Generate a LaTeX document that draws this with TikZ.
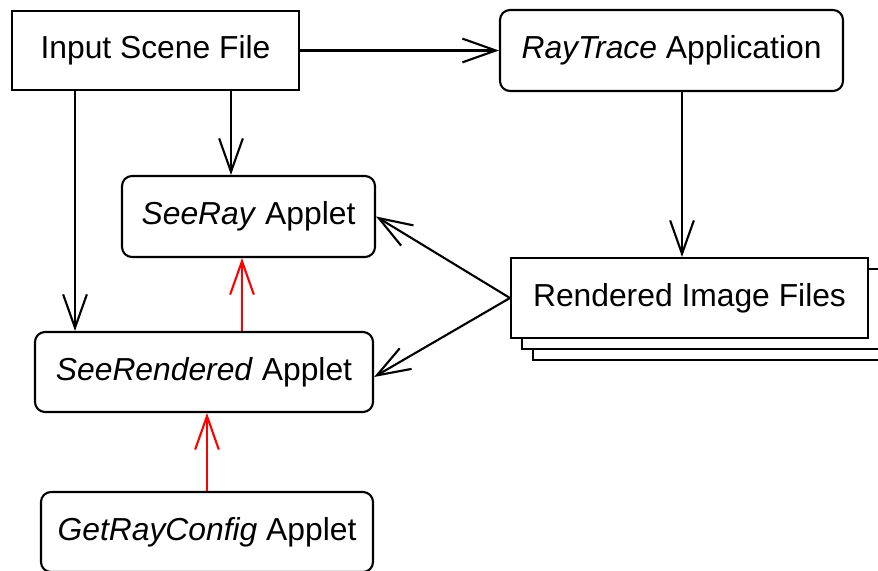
\documentclass[tikz,border=0pt]{standalone}
\usepackage{fontspec}
\setmainfont{Liberation Sans}
\usetikzlibrary{arrows.meta,shadows}

\begin{document}
\begin{tikzpicture}[>={Straight Barb[length=19pt,width=13.5pt]},line width=1.2pt,every node/.style={font=\fontsize{18.1}{21}\selectfont},
box/.style={draw,minimum height=1.6cm,inner sep=0pt},
applet/.style={box,rounded corners=0.2cm},
files/.style={box,fill=white,double copy shadow={shadow xshift=0.22cm,shadow yshift=-0.22cm}},
flow/.style={->},
call/.style={->,red}]
\useasboundingbox (0,0) rectangle (17.56,11.4);
\node[box,minimum width=5.74cm,minimum height=1.58cm] (scene) at (3.11,10.39) {Input Scene File};
\node[applet,minimum width=6.86cm,minimum height=1.62cm] (raytrace) at (13.43,10.39) {\textit{RayTrace} Application};
\node[applet,minimum width=5.06cm,minimum height=1.62cm] (seeray) at (4.97,7.07) {\textit{SeeRay} Applet};
\node[files,minimum width=7.14cm] (rendered) at (13.79,5.44) {Rendered Image Files};
\node[applet,minimum width=6.76cm] (seerend) at (4.08,3.96) {\textit{SeeRendered} Applet};
\node[applet,minimum width=6.64cm] (getray) at (4.14,0.76) {\textit{GetRayConfig} Applet};
\draw[flow] (scene.east) -- (raytrace.west);
\draw[flow] ([xshift=1.51cm]scene.south) -- ([xshift=1.51cm]scene.south |- seeray.north);
\draw[flow] ([xshift=-1.61cm]scene.south) -- ([xshift=-1.61cm]scene.south |- seerend.north);
\draw[flow] ([xshift=0.21cm]raytrace.south) -- ([xshift=0.21cm]raytrace.south |- rendered.north);
\draw[flow] (rendered.west) -- (seeray.east);
\draw[flow] (rendered.west) -- ([yshift=-0.1cm]seerend.east);
\draw[call] ([xshift=-0.13cm]seeray.south |- seerend.north) -- ([xshift=-0.13cm]seeray.south);
\draw[call] (getray.north) -- (getray.north |- seerend.south);
\end{tikzpicture}
\end{document}
